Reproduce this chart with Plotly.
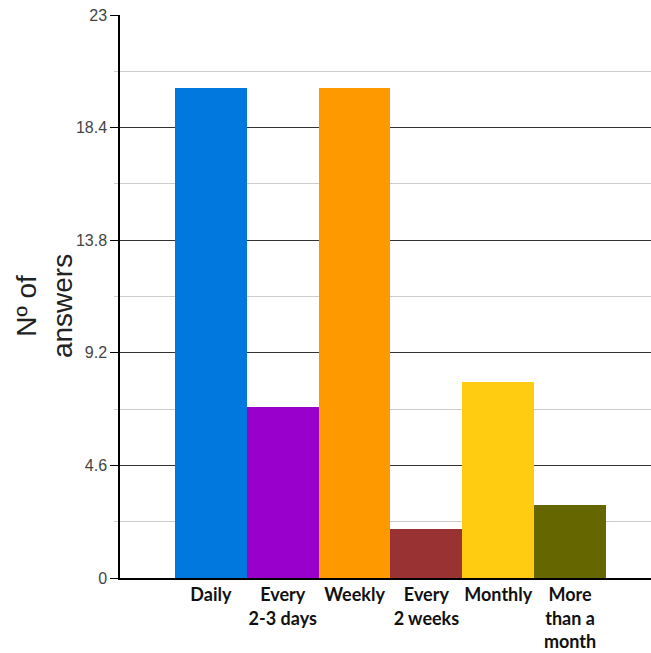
import plotly.graph_objects as go

categories = ["Daily", "Every<br>2-3 days", "Weekly", "Every<br>2 weeks", "Monthly", "More<br>than a<br>month"]
values = [20, 7, 20, 2, 8, 3]
colors = ["#0078DD", "#9900CC", "#FF9900", "#993333", "#FFCC11", "#666600"]
y_ticks = [0, 4.6, 9.2, 13.8, 18.4, 23]
y_tick_labels = ["0", "4.6", "9.2", "13.8", "18.4", "23"]
y_minor = [2.3, 6.9, 11.5, 16.1, 20.7]
y_title = "Nº of<br>answers"

xpos = list(range(len(categories)))

fig = go.Figure()
fig.add_trace(go.Bar(x=xpos, y=values, marker=dict(color=colors, line=dict(width=0)), width=1.0))

fig.update_layout(
    width=651, height=653,
    margin=dict(l=120, r=0, t=15, b=75),
    plot_bgcolor="white", paper_bgcolor="white",
    showlegend=False, bargap=0,
    font=dict(family="Liberation Sans, Arial", color="#444"),
)
fig.update_xaxes(
    range=[-1.266, 6.127],
    tickmode="array", tickvals=xpos, ticktext=categories,
    tickangle=0, automargin=False,
    tickfont=dict(family="Lato, Open Sans", size=18, color="#111", weight="bold"),
    showgrid=False, showline=True, linecolor="black", linewidth=1.5,
    ticks="", zeroline=False,
)
fig.update_yaxes(
    range=[0, 23], automargin=False,
    tickmode="array", tickvals=y_ticks, ticktext=y_tick_labels,
    tickfont=dict(family="Liberation Sans, Arial", size=16, color="#444"),
    ticks="outside", ticklen=8, tickcolor="black", tickwidth=1,
    showgrid=True, gridcolor="#333", gridwidth=1,
    showline=True, linecolor="black", linewidth=1.5,
    zeroline=False,
    minor=dict(tickmode="array", tickvals=y_minor, showgrid=True, gridcolor="#cccccc",
               gridwidth=1, ticks="outside", ticklen=4, tickcolor="#cccccc"),
)
fig.add_annotation(
    text=y_title, xref="paper", yref="paper", x=-0.1431, y=0.483,
    xanchor="center", yanchor="middle", textangle=-90, showarrow=False,
    font=dict(family="Liberation Sans, Arial", size=28, color="#222"),
)

fig.write_html("out.html")
